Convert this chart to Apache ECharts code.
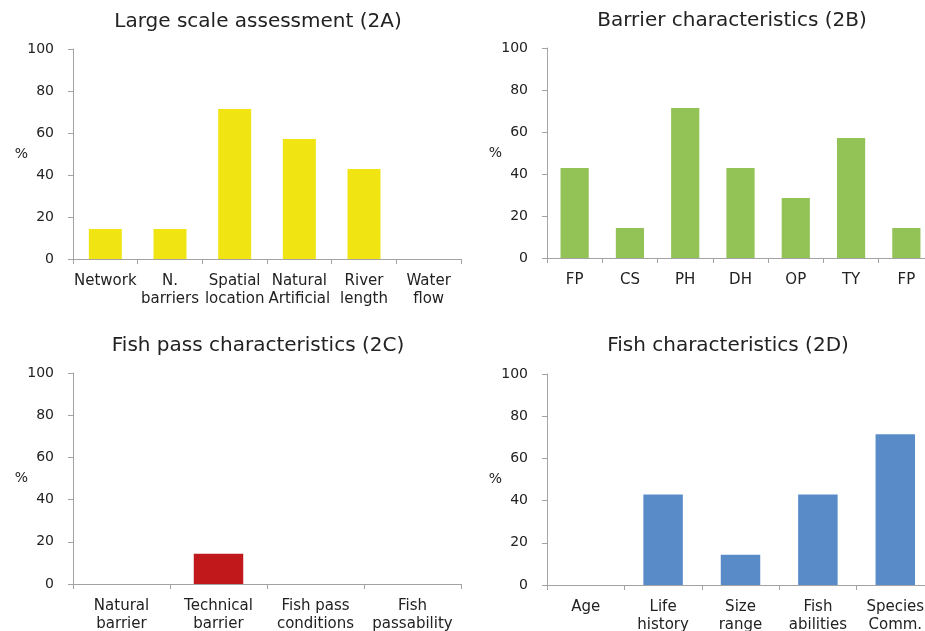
<!DOCTYPE html>
<html>
<head>
<meta charset="utf-8">
<script src="https://cdn.jsdelivr.net/npm/echarts@6/dist/echarts.min.js"></script>
<style>
  html, body { margin: 0; padding: 0; background: #fff; }
  #chart { width: 925px; height: 631px; }
</style>
</head>
<body>
<div id="chart"></div>
<script>
// Panel 2A: large scale assessment
const catsA = ['Network', 'N.\nbarriers', 'Spatial\nlocation', 'Natural\nArtificial', 'River\nlength', 'Water\nflow'];
const valsA = [14.3, 14.3, 71.4, 57.1, 42.9, 0];

// Panel 2B: barrier characteristics
const catsB = ['FP', 'CS', 'PH', 'DH', 'OP', 'TY', 'FP'];
const valsB = [42.9, 14.3, 71.4, 42.9, 28.6, 57.1, 14.3];

// Panel 2C: fish pass characteristics
const catsC = ['Natural\nbarrier', 'Technical\nbarrier', 'Fish pass\nconditions', 'Fish\npassability'];
const valsC = [0, 14.3, 0, 0];

// Panel 2D: fish characteristics
const catsD = ['Age', 'Life\nhistory', 'Size\nrange', 'Fish\nabilities', 'Species\nComm.'];
const valsD = [0, 42.9, 14.3, 42.9, 71.4];

const yTicks = [0, 20, 40, 60, 80, 100];

const titles = [
  'Large scale assessment (2A)',
  'Barrier characteristics (2B)',
  'Fish pass characteristics (2C)',
  'Fish characteristics (2D)'
];

const FONT = 'DejaVu Sans, Verdana, sans-serif';
const AXIS_GRAY = '#a3a3a3';
const TEXT = '#222';

// Right-hand panels run slightly past the canvas edge, so they use a fixed width
const panels = [
  { cats: catsA, vals: valsA, color: '#f0e513',
    grid: { left: 73, top: 49, width: 388, height: 210 }, title: { x: 258, y: 12 } },
  { cats: catsB, vals: valsB, color: '#93c356',
    grid: { left: 547, top: 48, width: 387, height: 210 }, title: { x: 732, y: 11 } },
  { cats: catsC, vals: valsC, color: '#c0181b',
    grid: { left: 73, top: 373, width: 388, height: 211 }, title: { x: 258, y: 336 } },
  { cats: catsD, vals: valsD, color: '#588bc8',
    grid: { left: 547, top: 374, width: 387, height: 211 }, title: { x: 728, y: 336 } }
];

const option = {
  animation: false,
  backgroundColor: '#fff',
  title: panels.map((p, i) => ({
    text: titles[i],
    left: p.title.x,
    top: p.title.y,
    padding: 0,
    textAlign: 'center',
    textStyle: { fontFamily: FONT, fontSize: 20, fontWeight: 'normal', color: TEXT }
  })),
  grid: panels.map(p => Object.assign({ containLabel: false, outerBoundsMode: 'none' }, p.grid)),
  xAxis: panels.map((p, i) => ({
    type: 'category',
    gridIndex: i,
    data: p.cats,
    axisLine: { lineStyle: { color: AXIS_GRAY, width: 1 } },
    axisTick: { show: true, length: 5, lineStyle: { color: AXIS_GRAY } },
    axisLabel: {
      interval: 0, margin: 13, color: TEXT,
      fontFamily: FONT, fontSize: 15, lineHeight: 18
    },
    splitLine: { show: false }
  })),
  yAxis: panels.map((p, i) => ({
    type: 'value',
    gridIndex: i,
    min: yTicks[0],
    max: yTicks[yTicks.length - 1],
    interval: 20,
    name: '%',
    nameLocation: 'middle',
    nameRotate: 0,
    nameGap: 45,
    nameMoveOverlap: false,
    nameTextStyle: { fontFamily: FONT, fontSize: 14, color: TEXT },
    axisLine: { show: true, lineStyle: { color: AXIS_GRAY, width: 1 } },
    axisTick: { show: true, length: 5, lineStyle: { color: AXIS_GRAY } },
    axisLabel: { margin: 19, color: TEXT, fontFamily: FONT, fontSize: 14 },
    splitLine: { show: false }
  })),
  series: panels.map((p, i) => ({
    type: 'bar',
    xAxisIndex: i,
    yAxisIndex: i,
    data: p.vals,
    barCategoryGap: '49%',
    itemStyle: { color: p.color }
  }))
};

const chart = echarts.init(document.getElementById('chart'), null, { renderer: 'canvas' });
chart.setOption(option);
</script>
</body>
</html>
